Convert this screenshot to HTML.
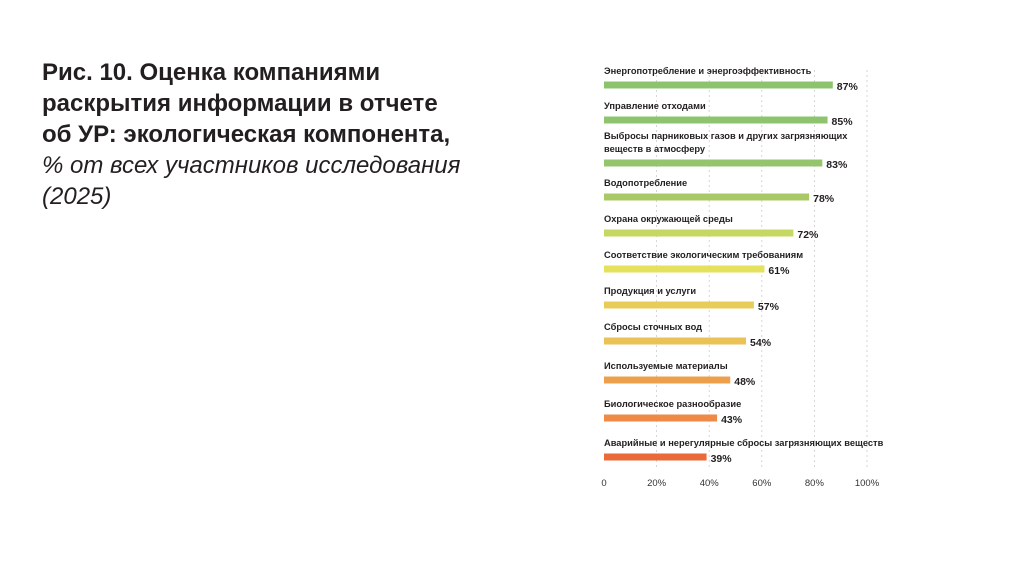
<!DOCTYPE html>
<html><head><meta charset="utf-8"><style>
body{margin:0;width:1024px;height:576px;background:#fff;overflow:hidden;font-family:"Liberation Sans",sans-serif}
.t{position:absolute;left:42px;top:57px;font-size:24px;line-height:31px;color:#231f20;letter-spacing:0px}
</style></head><body>
<div class="t"><b>Рис. 10. Оценка компаниями<br>раскрытия информации в отчете<br>об УР: экологическая компонента,</b><br><i>% от всех участников исследования<br>(2025)</i></div>
<svg id="c" width="1024" height="576" style="position:absolute;left:0;top:0"></svg>
<script>
const categories=["Энергопотребление и энергоэффективность","Управление отходами","Выбросы парниковых газов и других загрязняющих|веществ в атмосферу","Водопотребление","Охрана окружающей среды","Соответствие экологическим требованиям","Продукция и услуги","Сбросы сточных вод","Используемые материалы","Биологическое разнообразие","Аварийные и нерегулярные сбросы загрязняющих веществ"];
const values=[87,85,83,78,72,61,57,54,48,43,39];
const colors=["#8cc46e","#8fc46e","#94c56c","#a9c967","#c6d762","#e4e25c","#e8cc58","#eac255","#eda04c","#ee8a45","#ea6a3a"];
const ticks=[0,20,40,60,80,100];
const barY=[85,120,163,197,233,269,305,341,380,418,457];
const svg=document.getElementById('c');const NS='http://www.w3.org/2000/svg';
const x=v=>604+v*2.63;
function mk(t,a){const e=document.createElementNS(NS,t);for(const k in a)e.setAttribute(k,a[k]);svg.appendChild(e);return e;}
ticks.forEach(t=>{
 if(t>0){const l=mk('line',{x1:x(t),x2:x(t),y1:70,y2:468,stroke:'#ccc','stroke-width':0.8,'stroke-dasharray':'2,3'});
 
 }
 const tx=mk('text',{x:x(t),y:486,'font-size':9.5,fill:'#333','text-anchor':'middle'});tx.textContent=t?t+'%':'0';
 
 
});
categories.forEach((c,i)=>{
 const y=barY[i];
 const lines=c.split('|');
 lines.forEach((s,j)=>{const tx=mk('text',{x:604,y:y-(lines.length-j)*13+2,'font-size':9.3,'font-weight':'bold',fill:'#231f20'});tx.textContent=s;
  
  });
 const r=mk('rect',{x:x(0),y:y-3.5,width:x(values[i])-x(0),height:7,fill:colors[i]});
 
 
 const v=mk('text',{x:x(values[i])+4,y:y+5,'font-size':10.5,'font-weight':'bold',fill:'#231f20'});v.textContent=values[i]+'%';
 
 
});
</script>
</body></html>
